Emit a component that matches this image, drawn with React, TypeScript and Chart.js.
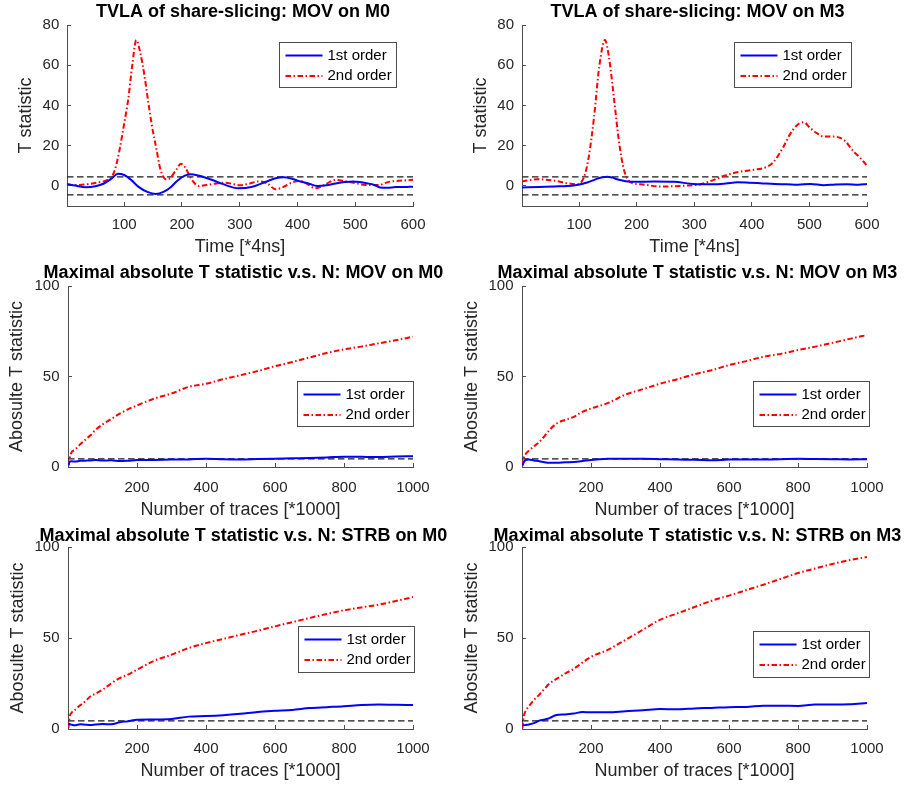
import React, { useEffect, useRef } from "react";
import { Chart, registerables } from "chart.js";

Chart.register(...registerables);

// ---------------- DATA ----------------
const timeTicks = [100, 200, 300, 400, 500, 600];
const traceTicks = [200, 400, 600, 800, 1000];
const tvlaYTicks = [0, 20, 40, 60, 80];
const maxYTicks = [0, 50, 100];
const tvlaThresholds = [4.5, -4.5];
const maxThresholds = [4.5];
const seriesLabels = ["1st order", "2nd order"];

// TVLA of share-slicing: MOV on M0
const m0FirstTime = [1, 15, 34, 50, 65, 78, 89, 100, 112, 125, 140, 155, 168, 180, 192, 204, 215, 230, 250, 270, 298, 320, 347, 362, 376, 392, 405, 420, 434, 450, 466, 482, 497, 510, 520, 532, 543, 556, 570, 585, 600];
const m0First = [1, 0.2, -0.7, -0.2, 1.2, 3.6, 6, 5.4, 3, -0.5, -3, -4, -3, -0.8, 2.6, 5, 5.8, 5, 3.2, 1, -1.2, -0.6, 2.2, 3.8, 4.3, 3.4, 2.2, 1.1, 0, 0.3, 1.2, 1.9, 2.2, 1.8, 1.3, 0.6, -0.8, -0.9, -0.6, -0.6, -0.4];
const m0SecondTime = [1, 20, 40, 57, 70, 78, 84, 92, 100, 107, 114, 121, 128, 135, 141, 148, 156, 162, 167, 172, 180, 190, 198, 206, 215, 229, 245, 260, 275, 290, 300, 315, 333, 348, 362, 375, 391, 405, 418, 431, 445, 466, 480, 495, 518, 541, 558, 575, 600];
const m0Second = [0.5, 0.4, 1, 1.8, 2.8, 4.5, 8, 18, 31, 43, 60, 72.5, 66, 55, 43, 30, 18, 9, 5, 3.3, 4, 8, 11, 9, 4, 0, 0.6, 1.2, 1.6, 0.8, 0.3, 1, 2.2, 1.2, -1.7, -0.6, 1.7, 2.4, 0.8, -1.2, 0.2, 3, 2.4, 1.7, 0.5, 0.5, 2, 2.5, 3];

// TVLA of share-slicing: MOV on M3
const m3FirstTime = [1, 30, 57, 91, 105, 114, 123, 132, 141, 149, 158, 166, 175, 184, 200, 230, 265, 299, 334, 355, 375, 395, 415, 440, 461, 480, 502, 525, 545, 565, 585, 600];
const m3First = [-0.8, -0.5, -0.3, 0.2, 0.9, 1.7, 2.6, 3.6, 4.3, 4.6, 4.1, 3.3, 2.7, 2.2, 2, 2.2, 2, 1, 0.8, 1.2, 1.8, 1.6, 1.3, 0.9, 0.8, 0.6, 1, 0.3, 0.7, 0.8, 0.6, 1];
const m3SecondTime = [1, 28, 57, 80, 97, 109, 117, 126, 135, 145, 152, 161, 169, 178, 190, 207, 242, 276, 311, 334, 357, 380, 403, 427, 438, 455, 467, 479, 490, 502, 513, 525, 542, 560, 577, 589, 600];
const m3Second = [2.2, 3.3, 2.6, 1.3, 0.8, 4.6, 14.6, 34, 59, 72.5, 64, 42.7, 22.8, 8, 1.7, 0.8, -0.3, 0, 0.8, 3, 5.5, 7.1, 8, 9.6, 12, 19.5, 26, 30.3, 31.6, 28.6, 26.2, 24.5, 24.5, 22.8, 17, 13.7, 10];

// Maximal absolute T statistic v.s. N  (number of traces, *1000)
const traces = [1, 5, 10, 20, 35, 50, 65, 80, 100, 125, 150, 175, 200, 250, 300, 350, 400, 450, 500, 550, 600, 650, 700, 750, 800, 850, 900, 950, 1000];

const movM0First = [1, 3, 3.2, 3, 3.4, 3.5, 3.6, 3.8, 3.6, 3.7, 3.3, 3.5, 3.8, 3.9, 4.1, 4.2, 4.6, 4.3, 4.2, 4.4, 4.6, 4.8, 5, 5.3, 5.7, 5.6, 5.5, 5.8, 6];
const movM0Second = [0.5, 5, 8, 9.5, 12.5, 15, 17.5, 20.5, 23.5, 26.5, 29.5, 32, 34, 37.8, 40.6, 44.3, 46, 48.5, 50.7, 53, 55.7, 58, 60.5, 63, 65, 66.5, 68.3, 70, 72];

const movM3First = [1, 2.5, 3.8, 4.2, 3.6, 3.2, 2.6, 2.3, 2.3, 2.6, 2.8, 3.3, 3.9, 4.5, 4.6, 4.5, 4.3, 4.1, 4, 3.7, 4.1, 4.2, 4.2, 4.3, 4.5, 4.4, 4.3, 4.2, 4.3];
const movM3Second = [0.5, 5, 7, 9, 11.5, 13.8, 17, 20.5, 24, 26, 27.7, 30.5, 32.3, 35.4, 40, 43, 46, 48.5, 51.3, 53.5, 56.3, 58.5, 60.9, 62.5, 64.6, 66.5, 68.6, 70.8, 72.9];

const strbM0First = [3, 2.6, 2.4, 2, 2.6, 2.4, 2.2, 2.5, 2.7, 2.6, 3.7, 4.3, 5.1, 5.2, 5.5, 6.8, 7.1, 7.6, 8.4, 9.4, 10, 10.5, 11.5, 12, 12.5, 13.2, 13.5, 13.3, 13.2];
const strbM0Second = [0.5, 7, 8.8, 10.5, 13, 15.2, 18, 19.4, 21.6, 25, 28, 30, 32.6, 37.5, 40.8, 44.5, 47.2, 49.5, 51.8, 54, 56.4, 58.7, 61, 63.2, 65.2, 66.8, 68.3, 70.3, 72.5];

const strbM3First = [2, 2, 2.2, 2.5, 3.2, 4.6, 5.2, 6, 7.7, 8, 8.5, 9.3, 9.2, 9.2, 9.8, 10.3, 11, 10.8, 11.3, 11.6, 12, 12.1, 12.8, 12.8, 12.7, 13.5, 13.5, 13.6, 14.3];
const strbM3Second = [0.5, 7, 9.7, 12.5, 16, 18.9, 22, 25, 27.5, 30.5, 33, 36.5, 39.6, 43.6, 49, 54.5, 60, 63.5, 67, 70.5, 73.3, 76.3, 79.3, 82.5, 85.7, 88.2, 90.7, 92.8, 94.5];

// ---------------- LAYOUT / STYLE ----------------
const FONT = '"Liberation Sans", Arial, Helvetica, sans-serif';
const TEXT_COLOR = "#262626";
const AXIS_COLOR = "#4d4d4d";
const TICK_LEN = 4;

type Box = { x: number; y: number; w: number; h: number };
type Area = { left: number; top: number; right: number; bottom: number };

interface Panel {
  cell: Box;
  area: Area;
  title: string;
  titleBaseline: number;
  xTitle: string;
  yTitle: string;
  xTitleMid: number;
  yTitleMid: number;
  xTickMid: number;
  yTickRight: number;
  xMin: number;
  xMax: number;
  xTicks: number[];
  yMin: number;
  yMax: number;
  yTicks: number[];
  firstX: number[];
  first: number[];
  secondX: number[];
  second: number[];
  thresholds: number[];
  legend: { right: number; top: number; width: number; height: number };
}

const zip = (xs: number[], ys: number[]) => xs.map((x, i) => ({ x, y: ys[i] }));

const panels: Panel[] = [
  {
    cell: { x: 0, y: 0, w: 454, h: 260 },
    area: { left: 67, top: 25, right: 413, bottom: 206 },
    title: "TVLA of share-slicing: MOV on M0",
    titleBaseline: 17.3,
    xTitle: "Time [*4ns]",
    yTitle: "T statistic",
    xTitleMid: 247.5,
    yTitleMid: 26.5,
    xTickMid: 225,
    yTickRight: 59.3,
    xMin: 1, xMax: 600, xTicks: timeTicks,
    yMin: -10, yMax: 80, yTicks: tvlaYTicks,
    firstX: m0FirstTime, first: m0First, secondX: m0SecondTime, second: m0Second,
    thresholds: tvlaThresholds,
    legend: { right: 17.3, top: 16.7, width: 116.7, height: 45 },
  },
  {
    cell: { x: 454, y: 0, w: 455, h: 260 },
    area: { left: 522, top: 25, right: 867, bottom: 206 },
    title: "TVLA of share-slicing: MOV on M3",
    titleBaseline: 17.3,
    xTitle: "Time [*4ns]",
    yTitle: "T statistic",
    xTitleMid: 247.5,
    yTitleMid: 481,
    xTickMid: 225,
    yTickRight: 514,
    xMin: 1, xMax: 600, xTicks: timeTicks,
    yMin: -10, yMax: 80, yTicks: tvlaYTicks,
    firstX: m3FirstTime, first: m3First, secondX: m3SecondTime, second: m3Second,
    thresholds: tvlaThresholds,
    legend: { right: 16.3, top: 16.7, width: 116.7, height: 45 },
  },
  {
    cell: { x: 0, y: 260, w: 454, h: 260 },
    area: { left: 68, top: 286, right: 413, bottom: 467 },
    title: "Maximal absolute T statistic v.s. N: MOV on M0",
    titleBaseline: 278.3,
    xTitle: "Number of traces [*1000]",
    yTitle: "Abosulte T statistic",
    xTitleMid: 510,
    yTitleMid: 17.5,
    xTickMid: 487.5,
    yTickRight: 59.5,
    xMin: 0, xMax: 1000, xTicks: traceTicks,
    yMin: 0, yMax: 100, yTicks: maxYTicks,
    firstX: traces, first: movM0First, secondX: traces, second: movM0Second,
    thresholds: maxThresholds,
    legend: { right: 0, top: 94.7, width: 116.3, height: 45 },
  },
  {
    cell: { x: 454, y: 260, w: 455, h: 260 },
    area: { left: 522, top: 286, right: 867, bottom: 467 },
    title: "Maximal absolute T statistic v.s. N: MOV on M3",
    titleBaseline: 278.3,
    xTitle: "Number of traces [*1000]",
    yTitle: "Abosulte T statistic",
    xTitleMid: 510,
    yTitleMid: 472,
    xTickMid: 487.5,
    yTickRight: 513.5,
    xMin: 0, xMax: 1000, xTicks: traceTicks,
    yMin: 0, yMax: 100, yTicks: maxYTicks,
    firstX: traces, first: movM3First, secondX: traces, second: movM3Second,
    thresholds: maxThresholds,
    legend: { right: -2, top: 94.7, width: 116, height: 45 },
  },
  {
    cell: { x: 0, y: 520, w: 454, h: 267 },
    area: { left: 68, top: 547, right: 413, bottom: 729 },
    title: "Maximal absolute T statistic v.s. N: STRB on M0",
    titleBaseline: 541.3,
    xTitle: "Number of traces [*1000]",
    yTitle: "Abosulte T statistic",
    xTitleMid: 771.5,
    yTitleMid: 18,
    xTickMid: 749,
    yTickRight: 59.5,
    xMin: 0, xMax: 1000, xTicks: traceTicks,
    yMin: 0, yMax: 100, yTicks: maxYTicks,
    firstX: traces, first: strbM0First, secondX: traces, second: strbM0Second,
    thresholds: maxThresholds,
    legend: { right: -1, top: 79, width: 116.3, height: 45.7 },
  },
  {
    cell: { x: 454, y: 520, w: 455, h: 267 },
    area: { left: 522, top: 547, right: 867, bottom: 729 },
    title: "Maximal absolute T statistic v.s. N: STRB on M3",
    titleBaseline: 541.3,
    xTitle: "Number of traces [*1000]",
    yTitle: "Abosulte T statistic",
    xTitleMid: 771.5,
    yTitleMid: 472,
    xTickMid: 749,
    yTickRight: 513.5,
    xMin: 0, xMax: 1000, xTicks: traceTicks,
    yMin: 0, yMax: 100, yTicks: maxYTicks,
    firstX: traces, first: strbM3First, secondX: traces, second: strbM3Second,
    thresholds: maxThresholds,
    legend: { right: -2, top: 84, width: 116, height: 45.7 },
  },
];

// Custom plugin: MATLAB-like title and boxed legend inside the axes
const figDecor = {
  id: "figDecor",
  afterDraw(chart: any, _args: any, opts: any) {
    const { ctx, chartArea } = chart;
    ctx.save();
    ctx.font = `bold 18px ${FONT}`;
    ctx.fillStyle = "#000";
    ctx.textAlign = "center";
    ctx.textBaseline = "alphabetic";
    ctx.fillText(opts.title, (chartArea.left + chartArea.right) / 2 + 3, opts.titleBaseline);

    const lg = opts.legend;
    const x0 = Math.round(chartArea.right - lg.right - lg.width) + 0.5;
    const y0 = Math.round(chartArea.top + lg.top) + 0.5;
    ctx.fillStyle = "#fff";
    ctx.fillRect(x0, y0, lg.width, lg.height);
    ctx.strokeStyle = AXIS_COLOR;
    ctx.lineWidth = 1;
    ctx.strokeRect(x0, y0, Math.round(lg.width), Math.round(lg.height));
    chart.data.datasets.slice(0, 2).forEach((ds: any, i: number) => {
      const cy = y0 + 13 + i * 20.5;
      ctx.beginPath();
      ctx.setLineDash(ds.borderDash || []);
      ctx.strokeStyle = ds.borderColor;
      ctx.lineWidth = ds.borderWidth;
      ctx.moveTo(x0 + 6, cy);
      ctx.lineTo(x0 + 43, cy);
      ctx.stroke();
      ctx.setLineDash([]);
      ctx.fillStyle = "#000";
      ctx.font = `15px ${FONT}`;
      ctx.textAlign = "left";
      ctx.textBaseline = "middle";
      ctx.fillText(ds.label, x0 + 48, cy);
    });
    ctx.restore();
  },
};

function buildConfig(p: Panel): any {
  const lh = 18 * 1.2;
  const tlh = 15 * 1.2;
  const yAxisWidth = p.area.left - p.cell.x;
  const xAxisHeight = p.cell.y + p.cell.h - p.area.bottom;
  const padTop = p.area.top - p.cell.y;
  const padRight = p.cell.x + p.cell.w - p.area.right;
  const xTitlePadBottom = p.cell.h - (p.xTitleMid - p.cell.y) - lh / 2;
  const yTitlePadTop = p.yTitleMid - p.cell.x - lh / 2;
  const xTickPad = p.xTickMid - p.area.bottom + TICK_LEN - tlh / 2;
  const yTickPad = p.area.left + TICK_LEN - p.yTickRight;

  const datasets: any[] = [
    {
      label: seriesLabels[0],
      data: zip(p.firstX, p.first),
      borderColor: "#0000ff",
      borderWidth: 2,
      pointRadius: 0,
      cubicInterpolationMode: "monotone",
      fill: false,
    },
    {
      label: seriesLabels[1],
      data: zip(p.secondX, p.second),
      borderColor: "#ff0000",
      borderWidth: 2,
      borderDash: [5.5, 2.5, 1.5, 2.5],
      pointRadius: 0,
      cubicInterpolationMode: "monotone",
      fill: false,
    },
    ...p.thresholds.map((t) => ({
      label: "threshold",
      data: [
        { x: p.xMin, y: t },
        { x: p.xMax, y: t },
      ],
      borderColor: "#1a1a1a",
      borderWidth: 1.3,
      borderDash: [6.5, 3.5],
      pointRadius: 0,
      fill: false,
    })),
  ];

  const tickFont = { family: FONT, size: 15 };
  const titleFont = { family: FONT, size: 18, lineHeight: 1.2 };

  const gridOpts = {
    display: true,
    drawOnChartArea: false,
    drawTicks: true,
    tickLength: -TICK_LEN,
    tickColor: AXIS_COLOR,
    tickWidth: 1,
  };

  return {
    type: "line",
    data: { datasets },
    plugins: [figDecor],
    options: {
      animation: false,
      responsive: false,
      events: [],
      layout: { padding: { top: padTop, right: padRight, left: 0, bottom: 0 } },
      plugins: {
        legend: { display: false },
        title: { display: false },
        tooltip: { enabled: false },
        figDecor: { title: p.title, titleBaseline: p.titleBaseline - p.cell.y, legend: p.legend },
      },
      scales: {
        x: {
          type: "linear",
          min: p.xMin,
          max: p.xMax,
          afterBuildTicks: (scale: any) => {
            scale.ticks = p.xTicks.map((v) => ({ value: v }));
          },
          afterFit: (scale: any) => {
            scale.height = xAxisHeight;
          },
          grid: gridOpts,
          border: { display: true, color: AXIS_COLOR, width: 1 },
          ticks: {
            font: tickFont,
            color: TEXT_COLOR,
            padding: xTickPad,
            maxRotation: 0,
            autoSkip: false,
            callback: (v: any) => String(v),
          },
          title: {
            display: true,
            text: p.xTitle,
            color: TEXT_COLOR,
            font: titleFont,
            padding: { top: 0, bottom: xTitlePadBottom },
          },
        },
        y: {
          type: "linear",
          min: p.yMin,
          max: p.yMax,
          afterBuildTicks: (scale: any) => {
            scale.ticks = p.yTicks.map((v) => ({ value: v }));
          },
          afterFit: (scale: any) => {
            scale.width = yAxisWidth;
          },
          grid: gridOpts,
          border: { display: true, color: AXIS_COLOR, width: 1 },
          ticks: {
            font: tickFont,
            color: TEXT_COLOR,
            padding: yTickPad,
            autoSkip: false,
            callback: (v: any) => String(v),
          },
          title: {
            display: true,
            text: p.yTitle,
            color: TEXT_COLOR,
            font: titleFont,
            padding: { top: yTitlePadTop, bottom: 0 },
          },
        },
      },
    },
  };
}

function PanelChart({ p }: { p: Panel }) {
  const ref = useRef<HTMLCanvasElement | null>(null);
  useEffect(() => {
    if (!ref.current) return;
    const chart = new Chart(ref.current, buildConfig(p));
    return () => chart.destroy();
  }, [p]);
  return (
    <canvas
      ref={ref}
      width={p.cell.w}
      height={p.cell.h}
      style={{ position: "absolute", left: p.cell.x, top: p.cell.y, width: p.cell.w, height: p.cell.h }}
    />
  );
}

export default function App() {
  return (
    <div style={{ position: "absolute", left: 0, top: 0, width: 909, height: 787, background: "#fff" }}>
      {panels.map((p, i) => (
        <PanelChart key={i} p={p} />
      ))}
    </div>
  );
}
